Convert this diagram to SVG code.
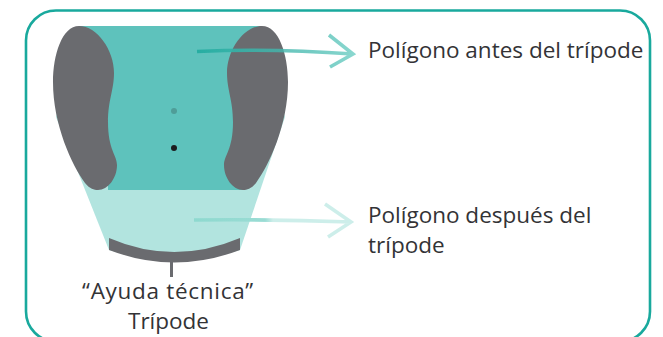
<svg xmlns="http://www.w3.org/2000/svg" width="663" height="337" viewBox="0 0 663 337">
<style>
text{font-family:"Open Sans","Noto Sans","Liberation Sans",sans-serif;font-size:22.5px;fill:#333336}
.grey{fill:#6a6b6f}
.c{fill:none;stroke-width:3.6}
</style>
<defs>
<linearGradient id="g1" gradientUnits="userSpaceOnUse" x1="197" y1="0" x2="354" y2="0"><stop offset="0" stop-color="#27ada2"/><stop offset="0.55" stop-color="#45b8ae" stop-opacity=".8"/><stop offset="1" stop-color="#8ad7cf"/></linearGradient>
<linearGradient id="g2" gradientUnits="userSpaceOnUse" x1="194" y1="0" x2="352" y2="0"><stop offset="0" stop-color="#8ed9cf"/><stop offset="0.45" stop-color="#9adcd4"/><stop offset="0.5" stop-color="#cdeeea"/><stop offset="1" stop-color="#cdeeea"/></linearGradient>
</defs>
<rect width="663" height="337" fill="#fff"/>
<rect id="frame" x="26" y="10.500" width="624" height="331" rx="30" fill="none" stroke="#19a99d" stroke-width="2.6"/>
<g id="poligono-despues"><path d="M79,26H262L285,117L240,250Q174,270 109,250L56,117Z" fill="#b2e4df"/></g>
<g id="poligono-antes"><path d="M79,26H262L245,100V190H108V100Z" fill="#5ec2bc"/></g>
<g id="pie-izquierdo"><path class="grey" d="M79,26C62,26 53,55 53,82C53,125 72,165 85,183C90,189 94,190 98,190C108,190 117,178 117,165C117,155 108,150 108,122C108,100 114,90 114,73C114,50 97,26 79,26Z"/></g>
<g id="pie-derecho"><path class="grey" d="M262,26C279,26 288,55 288,82C288,125 269,165 256,183C251,189 247,190 243,190C233,190 224,178 224,165C224,155 233,150 233,122C233,100 227,90 227,73C227,50 244,26 262,26Z"/></g>
<g id="punto-gris"><circle cx="174" cy="111" r="3" fill="#4f9d98"/></g>
<g id="punto-negro"><circle cx="174" cy="148" r="3" fill="#1c1c1e"/></g>
<g id="tripode"><path class="grey" d="M109,238Q174,266 240,238V250Q174,275 109,250Z"/><rect class="grey" x="170" y="262" width="3" height="15"/></g>
<g id="connectors">
<path class="c" stroke="url(#g1)" d="M197,51.500Q270,48 353,54M329,35L353,54L330,67"/>
<path class="c" stroke="url(#g2)" d="M194,220Q270,219 351,222M325,204L351,222L328,237"/>
</g>
<g id="label-antes"><text x="368" y="58">Polígono antes del trípode</text></g>
<g id="label-despues"><text x="368" y="223">Polígono después del</text><text x="368" y="253">trípode</text></g>
<g id="label-tripode"><text x="168" y="299" text-anchor="middle" letter-spacing=".7">“Ayuda técnica”</text><text x="168.500" y="329" text-anchor="middle">Trípode</text></g>
</svg>
